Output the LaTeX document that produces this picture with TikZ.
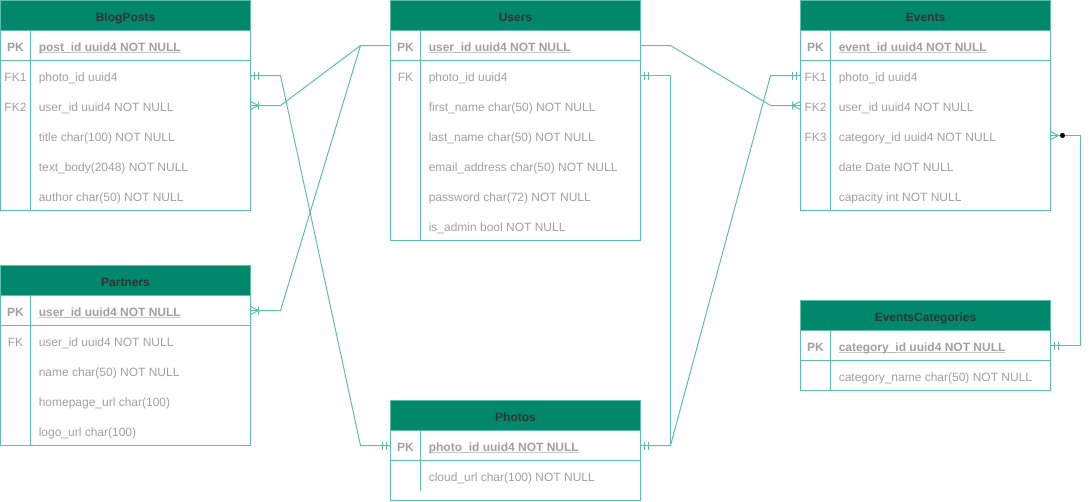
\documentclass[tikz,border=0pt]{standalone}
\usepackage{fontspec}
\setmainfont{Liberation Sans}
\usetikzlibrary{calc}

\definecolor{erhead}{HTML}{00876C}
\definecolor{erline}{HTML}{5DBFAB}
\definecolor{ertext}{HTML}{A0A0A0}
\definecolor{ertitle}{HTML}{333333}
\definecolor{erunder}{HTML}{C8C8C8}

\newcommand{\pkname}[1]{\setbox0\hbox{#1}\rlap{\color{erunder}\rule[-1.2pt]{\wd0}{1.1pt}}\box0}

\tikzset{
    tablehead/.style={draw=erline, line width=0.9pt, fill=erhead, text=ertitle, font=\bfseries\fontsize{9pt}{11pt}\selectfont, minimum width=187.5pt, minimum height=22.5pt, inner sep=0pt, outer sep=0pt, text height=9pt, text depth=0pt},
    attr/.style={anchor=west, text=ertext, font=\fontsize{9pt}{11pt}\selectfont, inner sep=0pt, text height=9pt, text depth=0pt},
    keyname/.style={attr, anchor=center},
    pkattr/.style={attr, font=\bfseries\fontsize{9pt}{11pt}\selectfont},
    pkkey/.style={keyname, font=\bfseries\fontsize{9pt}{11pt}\selectfont},
    tablebox/.style={draw=erline, line width=0.9pt},
    link/.style={draw=erline, line width=0.75pt},
    pics/onemark/.style={code={\draw[link] (4,-4) -- (4,4) (8,-4) -- (8,4);}},
    pics/manymark/.style={code={\draw[link] (0,-4) -- (8,0) -- (0,4) (8,-4) -- (8,4);}},
    pics/zeromany/.style={code={\draw[link] (0,-4) -- (8,0) -- (0,4); \fill[black] (12,0) circle (1.9pt);}},
}

\begin{document}
\begin{tikzpicture}[x=0.75pt, y=-0.75pt]
    \useasboundingbox (-0.5,-0.5) rectangle (1089.5,500.5);

    % BlogPosts
    \draw[tablebox] (0,0) rectangle (250,210) (0,60) -- (250,60) (30,30) -- (30,210);
    \node[tablehead] (blog) at (125,15) {BlogPosts};
    \node[pkkey] (blogkpk) at (15,45) {PK};
    \node[pkattr] (blogpk) at (38,45) {\pkname{post\_id uuid4 NOT NULL}};
    \node[keyname] (blogk1) at (15,75) {FK1};
    \node[attr] (blog1) at (38,75) {photo\_id uuid4};
    \node[keyname] (blogk2) at (15,105) {FK2};
    \node[attr] (blog2) at (38,105) {user\_id uuid4 NOT NULL};
    \node[attr] (blog3) at (38,135) {title char(100) NOT NULL};
    \node[attr] (blog4) at (38,165) {text\_body(2048) NOT NULL};
    \node[attr] (blog5) at (38,195) {author char(50) NOT NULL};

    % Users
    \draw[tablebox] (390,0) rectangle (640,240) (390,60) -- (640,60) (420,30) -- (420,240);
    \node[tablehead] (user) at (515,15) {Users};
    \node[pkkey] (userkpk) at (405,45) {PK};
    \node[pkattr] (userpk) at (428,45) {\pkname{user\_id uuid4 NOT NULL}};
    \node[keyname] (userk1) at (405,75) {FK};
    \node[attr] (user1) at (428,75) {photo\_id uuid4};
    \node[attr] (user2) at (428,105) {first\_name char(50) NOT NULL};
    \node[attr] (user3) at (428,135) {last\_name char(50) NOT NULL};
    \node[attr] (user4) at (428,165) {email\_address char(50) NOT NULL};
    \node[attr] (user5) at (428,195) {password char(72) NOT NULL};
    \node[attr] (user6) at (428,225) {is\_admin bool NOT NULL};

    % Events
    \draw[tablebox] (800,0) rectangle (1050,210) (800,60) -- (1050,60) (830,30) -- (830,210);
    \node[tablehead] (event) at (925,15) {Events};
    \node[pkkey] (eventkpk) at (815,45) {PK};
    \node[pkattr] (eventpk) at (838,45) {\pkname{event\_id uuid4 NOT NULL}};
    \node[keyname] (eventk1) at (815,75) {FK1};
    \node[attr] (event1) at (838,75) {photo\_id uuid4};
    \node[keyname] (eventk2) at (815,105) {FK2};
    \node[attr] (event2) at (838,105) {user\_id uuid4 NOT NULL};
    \node[keyname] (eventk3) at (815,135) {FK3};
    \node[attr] (event3) at (838,135) {category\_id uuid4 NOT NULL};
    \node[attr] (event4) at (838,165) {date Date NOT NULL};
    \node[attr] (event5) at (838,195) {capacity int NOT NULL};

    % Partners
    \draw[tablebox] (0,265) rectangle (250,445) (0,325) -- (250,325) (30,295) -- (30,445);
    \node[tablehead] (partner) at (125,280) {Partners};
    \node[pkkey] (partnerkpk) at (15,310) {PK};
    \node[pkattr] (partnerpk) at (38,310) {\pkname{user\_id uuid4 NOT NULL}};
    \node[keyname] (partnerk1) at (15,340) {FK};
    \node[attr] (partner1) at (38,340) {user\_id uuid4 NOT NULL};
    \node[attr] (partner2) at (38,370) {name char(50) NOT NULL};
    \node[attr] (partner3) at (38,400) {homepage\_url char(100)};
    \node[attr] (partner4) at (38,430) {logo\_url char(100)};

    % Photos
    \draw[tablebox] (390,400) rectangle (640,500) (390,460) -- (640,460) (420,430) -- (420,490);
    \node[tablehead] (photo) at (515,415) {Photos};
    \node[pkkey] (photokpk) at (405,445) {PK};
    \node[pkattr] (photopk) at (428,445) {\pkname{photo\_id uuid4 NOT NULL}};
    \node[attr] (photo1) at (428,475) {cloud\_url char(100) NOT NULL};

    % EventsCategories
    \draw[tablebox] (800,300) rectangle (1050,390) (800,360) -- (1050,360) (830,330) -- (830,390);
    \node[tablehead] (cat) at (925,315) {EventsCategories};
    \node[pkkey] (catkpk) at (815,345) {PK};
    \node[pkattr] (catpk) at (838,345) {\pkname{category\_id uuid4 NOT NULL}};
    \node[attr] (cat1) at (838,375) {category\_name char(50) NOT NULL};

    % relations
    \draw[link] (blog.east |- blog1) -- ++(30,0) -- ($(photo.west |- photopk)+(-30,0)$) -- (photo.west |- photopk);
    \draw[link] (blog.east |- blog2) -- ++(30,0) -- ($(user.west |- userpk)+(-30,0)$) -- (user.west |- userpk);
    \draw[link] (partner.east |- partnerpk) -- ++(30,0) -- ($(user.west |- userpk)+(-30,0)$);
    \draw[link] (user.east |- userpk) -- ++(30,0) -- ($(event.west |- event2)+(-30,0)$) -- (event.west |- event2);
    \draw[link] (user.east |- user1) -| ($(photo.east |- photopk)+(30,0)$) -- (photo.east |- photopk);
    \draw[link] (photo.east |- photopk) -- ++(30,0) -- ($(event.west |- event1)+(-30,0)$) -- (event.west |- event1);
    \draw[link] (event.east |- event3) -- ++(30,0) |- (cat.east |- catpk);

    \pic at (blog.east |- blog1) {onemark};
    \pic at (blog.east |- blog2) {manymark};
    \pic at (partner.east |- partnerpk) {manymark};
    \pic at (user.east |- user1) {onemark};
    \pic[xscale=-1] at (photo.west |- photopk) {onemark};
    \pic at (photo.east |- photopk) {onemark};
    \pic[xscale=-1] at (event.west |- event1) {onemark};
    \pic[xscale=-1] at (event.west |- event2) {manymark};
    \pic at (event.east |- event3) {zeromany};
    \pic at (cat.east |- catpk) {onemark};
\end{tikzpicture}
\end{document}
